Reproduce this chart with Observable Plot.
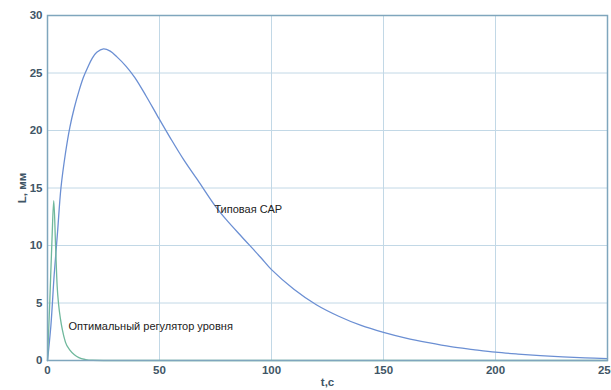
<!DOCTYPE html>
<html>
<head>
<meta charset="utf-8">
<script src="https://cdn.jsdelivr.net/npm/d3@7"></script>
<script src="https://cdn.jsdelivr.net/npm/@observablehq/plot@0.6"></script>
<style>
  html, body { margin: 0; padding: 0; background: #fff; }
  #chart svg { display: block; }
</style>
</head>
<body>
<div id="chart"></div>
<script>
// Typical control system (Типовая САР)
const tTypical = [0, 1.5, 3, 4.5, 6, 8, 10, 12, 14, 16, 18, 20, 22, 25, 28, 31, 35, 39, 44, 49, 55, 61, 67, 75, 80, 87, 95, 100, 110, 120, 130, 140, 150, 160, 170, 180, 190, 200, 210, 220, 230, 240, 250];
const LTypical = [0, 3, 7.5, 11.2, 15, 18, 20.3, 22, 23.4, 24.6, 25.5, 26.3, 26.8, 27.1, 26.9, 26.4, 25.6, 24.6, 23, 21.3, 19.3, 17.4, 15.7, 13.4, 12.2, 10.7, 9.0, 7.9, 6.2, 4.85, 3.85, 3.05, 2.45, 1.95, 1.55, 1.2, 0.95, 0.72, 0.56, 0.43, 0.32, 0.23, 0.16];
// Optimal level regulator
const tOptimal = [0, 1, 2, 2.8, 3.6, 4.3, 5, 5.8, 6.6, 8, 10, 12, 14, 17, 20, 30, 250];
const LOptimal = [0, 5, 10.5, 13.9, 10, 6.5, 4.8, 3.6, 2.7, 1.6, 0.9, 0.5, 0.25, 0.08, 0.02, 0, 0];

const xTicks = [0, 50, 100, 150, 200, 250];
const yTicks = [0, 5, 10, 15, 20, 25, 30];

const typical = tTypical.map((t, i) => ({t, L: LTypical[i]}));
const optimal = tOptimal.map((t, i) => ({t, L: LOptimal[i]}));

const labelColor = "#3f5666";
const chart = Plot.plot({
  width: 611,
  height: 390,
  marginLeft: 47,
  marginRight: 4,
  marginTop: 15,
  marginBottom: 30,
  style: {fontFamily: "Liberation Sans, Arial, sans-serif", fontSize: "11.5px", color: labelColor, background: "#fff"},
  x: {type: "linear", domain: [0, 250]},
  y: {type: "linear", domain: [0, 30]},
  marks: [
    Plot.gridX(xTicks, {stroke: "#c2d8e6", strokeOpacity: 1, strokeWidth: 1}),
    Plot.gridY(yTicks, {stroke: "#c2d8e6", strokeOpacity: 1, strokeWidth: 1}),
    Plot.line(typical, {x: "t", y: "L", stroke: "#6b8fd3", strokeWidth: 1.3, curve: "catmull-rom"}),
    Plot.line(optimal, {x: "t", y: "L", stroke: "#6fb89c", strokeWidth: 1.3, curve: "monotone-x"}),
    Plot.text(["Типовая САР"], {x: 74.5, y: 13.1, textAnchor: "start", fill: "#222", fontSize: 11}),
    Plot.text(["Оптимальный регулятор уровня"], {x: 9.4, y: 3.0, textAnchor: "start", fill: "#222", fontSize: 11}),
    Plot.frame({stroke: "#7fa6bd", strokeWidth: 1.5}),
    Plot.axisX(xTicks, {tickSize: 0, tickPadding: 5, fontWeight: "bold", label: "t,c", labelAnchor: "center", labelOffset: 25, labelArrow: "none"}),
    Plot.axisY(yTicks, {tickSize: 0, tickPadding: 5, fontWeight: "bold", label: "L, мм", labelAnchor: "center", labelOffset: 30, labelArrow: "none"})
  ]
});
document.getElementById("chart").appendChild(chart);
</script>
</body>
</html>
